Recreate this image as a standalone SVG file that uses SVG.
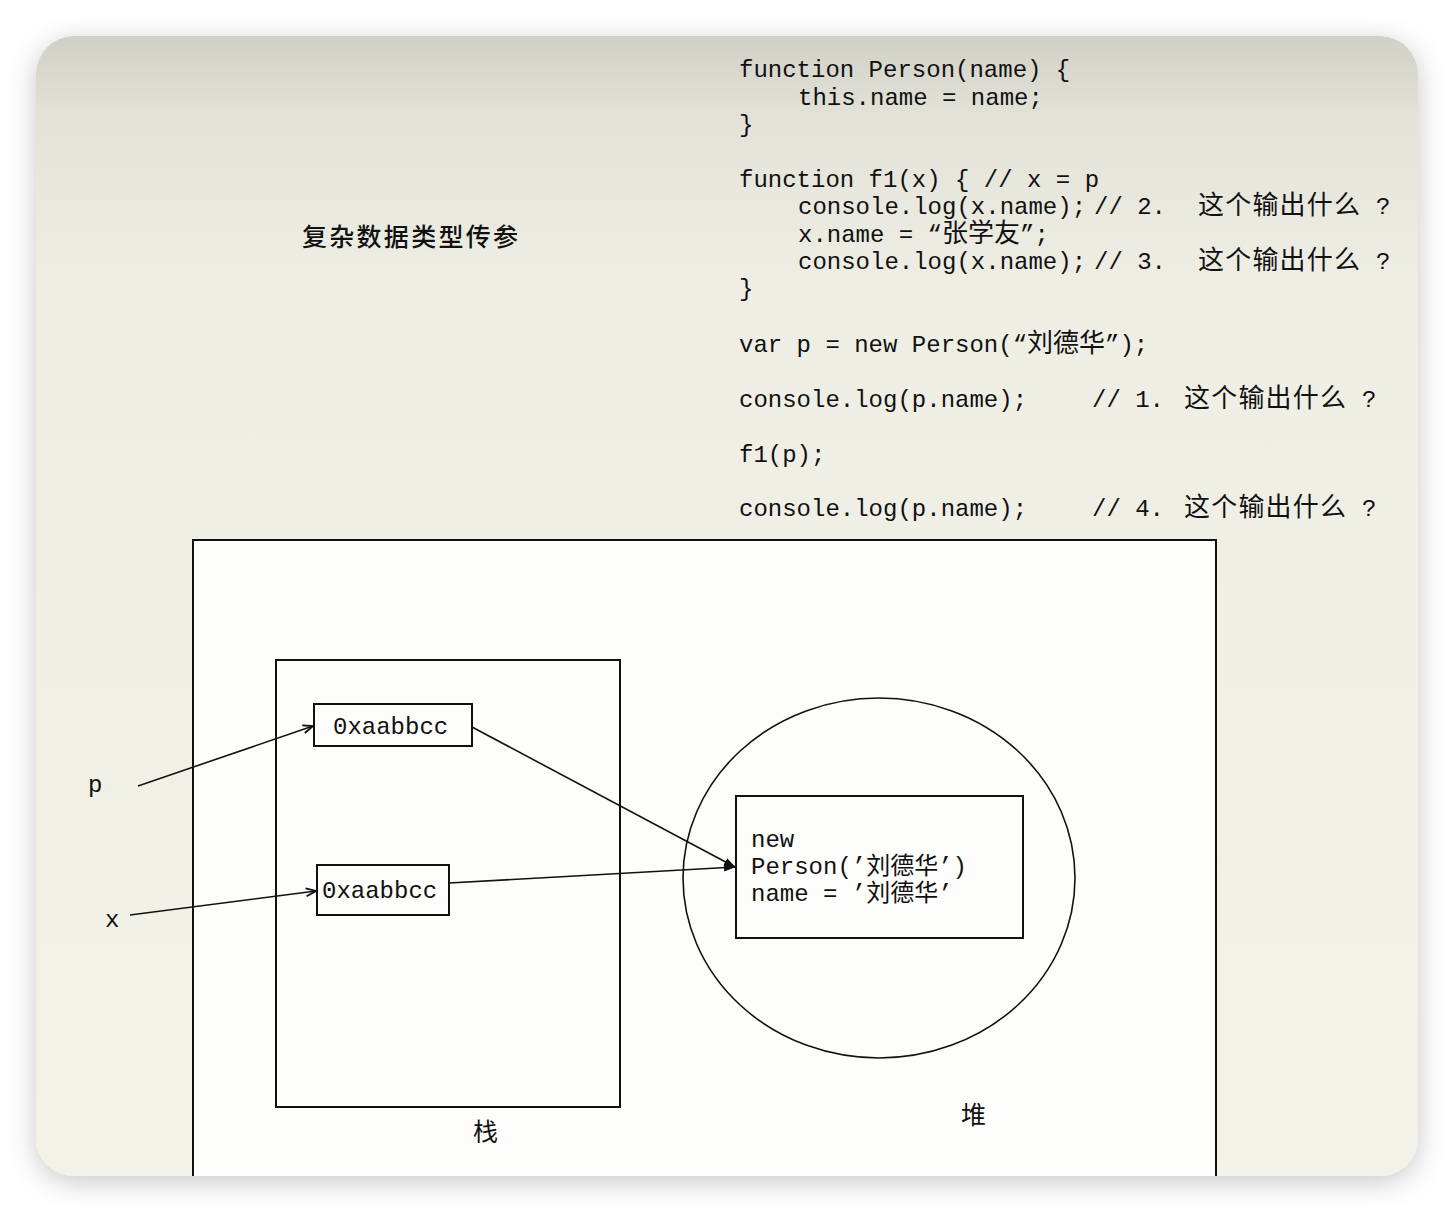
<svg xmlns="http://www.w3.org/2000/svg" width="1454" height="1212" viewBox="0 0 1454 1212">
<style>
.code{font-family:"Liberation Mono","Noto Sans CJK SC",monospace;font-size:24px;fill:#111}
.q{font-family:"Noto Sans CJK SC",sans-serif;font-size:26px}
.lbl{font-family:"Liberation Mono","Noto Sans CJK SC",monospace;font-size:24px;fill:#111}
.cjk{font-family:"Noto Sans CJK SC",sans-serif;font-size:25px;fill:#111}
.box{fill:none;stroke:#111;stroke-width:2}
.edge{fill:none;stroke:#111;stroke-width:1.6}
</style>
<defs>
<linearGradient id="bg" x1="0" y1="0" x2="0" y2="1">
<stop offset="0" stop-color="#d1d0c7"/>
<stop offset="0.07" stop-color="#e3e2d9"/>
<stop offset="0.22" stop-color="#efeee5"/>
<stop offset="1" stop-color="#f3f2e8"/>
</linearGradient>
<filter id="sh" x="-10%" y="-10%" width="120%" height="120%">
<feDropShadow dx="0" dy="6" stdDeviation="14" flood-color="#000" flood-opacity="0.22"/>
</filter>
<clipPath id="card"><rect x="36" y="36" width="1382" height="1140" rx="38"/></clipPath>
<marker id="arr" viewBox="0 0 12 10" refX="11" refY="5" markerWidth="12" markerHeight="10" markerUnits="userSpaceOnUse" orient="auto">
<path d="M1,1 L11,5 L1,9" fill="none" stroke="#111" stroke-width="1.8"/>
</marker>
<marker id="arrf" viewBox="0 0 12 10" refX="11" refY="5" markerWidth="12" markerHeight="10" markerUnits="userSpaceOnUse" orient="auto">
<path d="M0,1 L12,5 L0,9 Z" fill="#111"/>
</marker>
</defs>
<rect width="1454" height="1212" fill="#ffffff"/>
<rect x="36" y="36" width="1382" height="1140" rx="38" fill="url(#bg)" filter="url(#sh)"/>
<g clip-path="url(#card)">
<g id="code">
<text class="code" x="739" y="77">function Person(name) {</text>
<text class="code" x="798" y="105">this.name = name;</text>
<text class="code" x="739" y="132">}</text>
<text class="code" x="739" y="187">function f1(x) { // x = p</text>
<text class="code" x="798" y="214">console.log(x.name);<tspan x="1094">// 2.</tspan><tspan class="q" x="1198" textLength="162">这个输出什么</tspan><tspan x="1376">?</tspan></text>
<text class="code" x="798" y="242">x.name = “<tspan class="q">张学友</tspan>”;</text>
<text class="code" x="798" y="269">console.log(x.name);<tspan x="1094">// 3.</tspan><tspan class="q" x="1198" textLength="162">这个输出什么</tspan><tspan x="1376">?</tspan></text>
<text class="code" x="739" y="296">}</text>
<text class="code" x="739" y="352">var p = new Person(“<tspan class="q">刘德华</tspan>”);</text>
<text class="code" x="739" y="407">console.log(p.name);<tspan x="1092">// 1.</tspan><tspan class="q" x="1184" textLength="162">这个输出什么</tspan><tspan x="1362">?</tspan></text>
<text class="code" x="739" y="462">f1(p);</text>
<text class="code" x="739" y="516">console.log(p.name);<tspan x="1092">// 4.</tspan><tspan class="q" x="1184" textLength="162">这个输出什么</tspan><tspan x="1362">?</tspan></text>
</g>
<g id="title"><text class="cjk" x="302" y="246" textLength="216" font-weight="500">复杂数据类型传参</text></g>
<g id="memory">
<rect x="193" y="540" width="1023" height="700" fill="#fdfdfb" stroke="#111" stroke-width="2"/>
</g>
<g id="stack">
<rect class="box" x="276" y="660" width="344" height="447"/>
<text class="cjk" x="473" y="1141">栈</text>
</g>
<g id="heap">
<ellipse cx="879" cy="878" rx="196" ry="180" fill="none" stroke="#111" stroke-width="1.6"/>
<text class="cjk" x="961" y="1124">堆</text>
</g>
<g id="addr1">
<rect class="box" x="314" y="704" width="158" height="42" fill="#fdfdfb"/>
<text class="lbl" x="333" y="734">0xaabbcc</text>
</g>
<g id="addr2">
<rect class="box" x="317" y="865" width="132" height="50" fill="#fdfdfb"/>
<text class="lbl" x="322" y="898">0xaabbcc</text>
</g>
<g id="obj">
<rect class="box" x="736" y="796" width="287" height="142" fill="#fdfdfb"/>
<text class="lbl" x="751" y="847">new</text>
<text class="lbl" x="751" y="874">Person(’刘德华’)</text>
<text class="lbl" x="751" y="901">name = ’刘德华’</text>
</g>
<g id="varp"><text class="lbl" x="88" y="792">p</text></g>
<g id="varx"><text class="lbl" x="105" y="927">x</text></g>
<g id="connectors">
<line class="edge" x1="138" y1="786" x2="313" y2="726" marker-end="url(#arr)"/>
<line class="edge" x1="130" y1="915" x2="316" y2="891" marker-end="url(#arr)"/>
<line class="edge" x1="472" y1="727" x2="735" y2="867" marker-end="url(#arrf)"/>
<line class="edge" x1="449" y1="883" x2="735" y2="867" marker-end="url(#arrf)"/>
</g>
</g>
</svg>
